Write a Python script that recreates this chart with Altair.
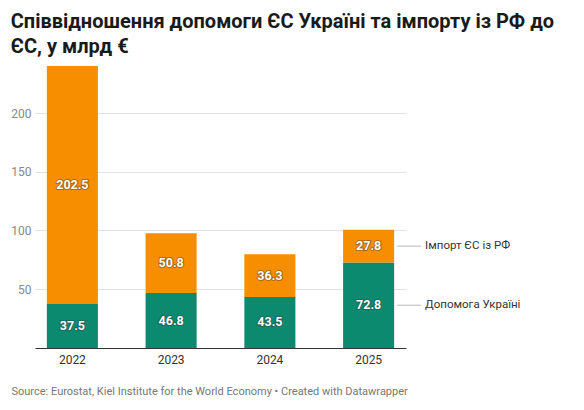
import altair as alt
import pandas as pd

years = ["2022", "2023", "2024", "2025"]
aid = [37.5, 46.8, 43.5, 72.8]
imports = [202.5, 50.8, 36.3, 27.8]
series = ["Допомога Україні", "Імпорт ЄС із РФ"]
colors = ["#0b8a6f", "#f78e00"]
y_ticks = [50, 100, 150, 200]

rows = []
for i, y in enumerate(years):
    rows.append({"year": y, "series": series[0], "value": aid[i], "ord": 0})
    rows.append({"year": y, "series": series[1], "value": imports[i], "ord": 1})
df = pd.DataFrame(rows)

FONT = "Roboto"

base = alt.Chart(df).transform_stack(
    stack="value", groupby=["year"], as_=["v0", "v1"], sort=[alt.SortField("ord")]
).transform_calculate(mid="(datum.v0 + datum.v1) / 2")

xenc = alt.X(
    "year:N",
    sort=years,
    scale=alt.Scale(paddingInner=0.483, paddingOuter=0.12),
    axis=alt.Axis(
        title="Source: Eurostat, Kiel Institute for the World Economy • Created with Datawrapper",
        titleAnchor="start", titleX=-24, titleY=46, titleAlign="left",
        titleBaseline="alphabetic",
        titleFont=FONT, titleFontSize=11, titleFontWeight="normal", titleColor="#777777",
        labelFont=FONT, labelFontSize=12, labelColor="#333333", labelPadding=6,
        labelAngle=0, ticks=False, domainColor="#333333", domainWidth=1,
    ),
)

yscale = alt.Scale(domain=[0, 240], nice=False)

bars = base.mark_bar().encode(
    x=xenc,
    y=alt.Y(
        "v0:Q", scale=yscale,
        axis=alt.Axis(
            title=None, values=y_ticks, labelFont=FONT, labelFontSize=12,
            labelColor="#888888", labelPadding=4, ticks=False, domain=False,
            gridColor="#e3e3e3", gridWidth=1,
        ),
    ),
    y2="v1:Q",
    color=alt.Color("series:N", scale=alt.Scale(domain=series, range=colors), legend=None),
)

shadow = base.mark_text(
    font=FONT, fontSize=12.5, fontWeight="bold", color="#333333",
    stroke="#333333", strokeWidth=2.2, strokeOpacity=0.5, opacity=0.7,
).encode(x=alt.X("year:N", sort=years), y=alt.Y("mid:Q", scale=yscale), text=alt.Text("value:Q", format=".1f"))

labels = base.mark_text(
    font=FONT, fontSize=12.5, fontWeight="bold", color="white",
).encode(x=alt.X("year:N", sort=years), y=alt.Y("mid:Q", scale=yscale), text=alt.Text("value:Q", format=".1f"))

last = base.transform_filter(alt.datum.year == years[-1])

lines = last.mark_tick(xOffset=40.5, size=24, thickness=1, color="#999999").encode(
    x=alt.X("year:N", sort=years), y=alt.Y("mid:Q", scale=yscale)
)

names = last.mark_text(
    align="left", dx=56.5, font=FONT, fontSize=11.5, color="#333333"
).encode(x=alt.X("year:N", sort=years), y=alt.Y("mid:Q", scale=yscale), text="series:N")

chart = alt.layer(bars, shadow, labels, lines, names).properties(
    width=371, height=282,
    background="white",
    padding={"left": 2, "top": 4, "right": 5, "bottom": 5},
    title=alt.TitleParams(
        text=["Співвідношення допомоги ЄС Україні та імпорту із РФ до", "ЄС, у млрд €"],
        anchor="start", frame="bounds", font=FONT, fontSize=20, fontWeight="bold",
        color="#1a1a1a", lineHeight=25, offset=9,
    ),
).configure_view(strokeWidth=0, stroke="transparent")

chart.save("out.html", embed_options={"renderer": "svg", "actions": False})
